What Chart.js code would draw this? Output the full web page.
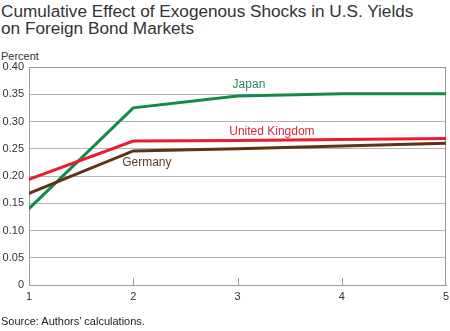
<!DOCTYPE html>
<html><head><meta charset="utf-8">
<script src="https://cdn.jsdelivr.net/npm/chart.js@4/dist/chart.umd.min.js"></script>
<style>
html,body{margin:0;padding:0;background:#fff;}
#wrap{position:relative;width:450px;height:331px;overflow:hidden;font-family:"Liberation Sans",Arial,sans-serif;color:#333;}
#title{position:absolute;left:1px;top:3px;font-size:17.2px;line-height:17px;color:#333;white-space:nowrap;}
#unit{position:absolute;left:1px;top:50px;font-size:11px;color:#333;}
#src{position:absolute;left:1px;top:315px;font-size:11px;color:#222;}
canvas{position:absolute;left:0;top:0;}
</style></head><body>
<div id="wrap">
<div id="title">Cumulative Effect of Exogenous Shocks in U.S. Yields<br>on Foreign Bond Markets</div>
<div id="unit">Percent</div>
<canvas id="c" width="450" height="331"></canvas>
<div id="src">Source: Authors’ calculations.</div>
</div>
<script>
const categories = [1, 2, 3, 4, 5];
const japan = [0.140, 0.325, 0.347, 0.351, 0.351];
const unitedKingdom = [0.194, 0.264, 0.265, 0.267, 0.269];
const germany = [0.168, 0.246, 0.250, 0.255, 0.260];
const yTicks = [0, 0.05, 0.10, 0.15, 0.20, 0.25, 0.30, 0.35, 0.40];
const seriesLabels = [
  {text: 'Japan', x: 3.11, y: 0.367, color: '#2a8a55'},
  {text: 'United Kingdom', x: 3.33, y: 0.281, color: '#d9283a'},
  {text: 'Germany', x: 2.13, y: 0.224, color: '#5a3b28'}
];

const toPts = arr => arr.map((v, i) => ({x: categories[i], y: v}));

const labelPlugin = {
  id: 'labels',
  afterDatasetsDraw(chart) {
    const {ctx, scales: {x, y}} = chart;
    ctx.save();
    ctx.font = '12px "Liberation Sans", Arial, sans-serif';
    ctx.textAlign = 'center';
    ctx.textBaseline = 'middle';
    seriesLabels.forEach(l => {
      ctx.fillStyle = l.color;
      ctx.fillText(l.text, x.getPixelForValue(l.x), y.getPixelForValue(l.y));
    });
    ctx.restore();
  },
  beforeDatasetsDraw(chart) {
    const {ctx, chartArea: a, scales: {x}} = chart;
    ctx.save();
    ctx.strokeStyle = '#999';
    ctx.lineWidth = 1;
    ctx.strokeRect(Math.round(a.left) + 0.5, Math.round(a.top) + 0.5, Math.round(a.right - a.left) - 1, Math.round(a.bottom - a.top));
    categories.slice(1, -1).forEach(c => {
      const px = Math.round(x.getPixelForValue(c)) + 0.5;
      ctx.beginPath();
      ctx.moveTo(px, a.bottom);
      ctx.lineTo(px, a.bottom - 7);
      ctx.stroke();
    });
    ctx.restore();
  }
};

new Chart(document.getElementById('c'), {
  type: 'line',
  data: {
    datasets: [
      {label: 'Germany', data: toPts(germany), borderColor: '#5c3317', borderWidth: 3, pointRadius: 0, tension: 0},
      {label: 'United Kingdom', data: toPts(unitedKingdom), borderColor: '#ec1c2e', borderWidth: 3, pointRadius: 0, tension: 0},
      {label: 'Japan', data: toPts(japan), borderColor: '#138a47', borderWidth: 3, pointRadius: 0, tension: 0}
    ]
  },
  options: {
    responsive: false,
    animation: false,
    layout: {padding: {left: 0, right: 4, top: 67, bottom: 0}},
    plugins: {legend: {display: false}, tooltip: {enabled: false}},
    scales: {
      x: {
        type: 'linear', min: 1, max: 5,
        afterBuildTicks: s => { s.ticks = categories.map(v => ({value: v})); },
        afterFit: s => { s.height = 46; },
        grid: {display: false},
        border: {display: true, color: '#999'},
        ticks: {color: '#333', font: {size: 11, family: '"Liberation Sans", Arial, sans-serif'}, padding: -3, maxRotation: 0,
                callback: v => String(v)}
      },
      y: {
        min: 0, max: 0.40,
        afterBuildTicks: s => { s.ticks = yTicks.map(v => ({value: v})); },
        afterFit: s => { s.width = 29; },
        grid: {color: '#b3b3b3', lineWidth: 1, drawTicks: false},
        border: {display: true, color: '#999'},
        ticks: {color: '#333', font: {size: 11, family: '"Liberation Sans", Arial, sans-serif'}, padding: 5,
                callback: v => v === 0 ? '0' : v.toFixed(2)}
      }
    }
  },
  plugins: [labelPlugin]
});
</script>
</body></html>
